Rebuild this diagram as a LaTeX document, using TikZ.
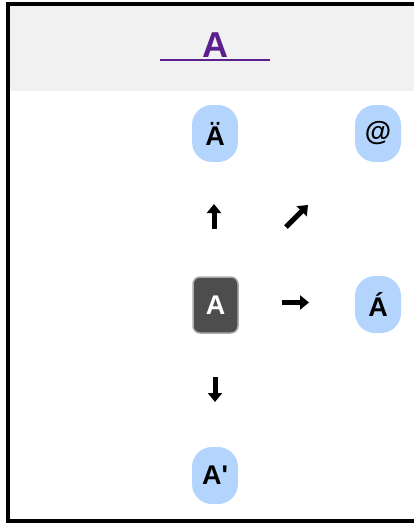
\documentclass[tikz,border=0pt]{standalone}
\usepackage{fontspec}
\setmainfont{Liberation Sans}
\usepackage{xcolor}
\usetikzlibrary{arrows.meta}

\definecolor{keyblue}{HTML}{B3D4FC}
\definecolor{keydark}{HTML}{4D4D4D}
\definecolor{keyedge}{HTML}{ABABAB}
\definecolor{hdrgray}{HTML}{F1F1F1}
\definecolor{titlepurple}{HTML}{5B1F8F}

\begin{document}
\begin{tikzpicture}[x=1pt, y=-1pt, font=\bfseries\fontsize{27}{27}\selectfont,
      variant/.style={fill=keyblue, rounded corners=20pt, minimum width=46pt, minimum height=57pt, inner sep=0pt},
      basekey/.style={fill=keydark, draw=keyedge, line width=1.5pt, rounded corners=7pt, text=white, minimum width=45pt, minimum height=56pt, inner sep=0pt},
      hint/.style={line width=5pt, -{Triangle[length=9pt, width=14pt]}},
      heading/.style={text=titlepurple, font=\bfseries\fontsize{36}{36}\selectfont, inner sep=0pt, anchor=base}]
    \useasboundingbox (0,0) rectangle (414,523);
    \fill[hdrgray] (10,6) rectangle (414,91);
    \draw[line width=4pt] (424,4) -- (8,4) -- (8,521) -- (424,521);
    \node[heading] (title) at (215,57) {A};
    \draw[titlepurple, line width=2pt] ([xshift=-55pt, yshift=-3pt]title.base) -- ([xshift=55pt, yshift=-3pt]title.base);
    \node[variant] (umlaut) at (215,133.5) {Ä};
    \node[variant] (at)     at (378,133.5) {@};
    \node[basekey] (key)    at (215.5,305) {A};
    \node[variant] (acute)  at (378,304.5) {Á};
    \node[variant] (prime)  at (215,475.5) {A\textquotesingle};
    \coordinate (up0) at (214,229);  \coordinate (up1) at (214,204);
    \coordinate (ne0) at (286,227);  \coordinate (ne1) at (308,205);
    \coordinate (rt0) at (282,302.5); \coordinate (rt1) at (309,302.5);
    \coordinate (dn0) at (215,377);  \coordinate (dn1) at (215,402);
    \draw[hint] (up0) -- (up1);
    \draw[hint] (ne0) -- (ne1);
    \draw[hint] (rt0) -- (rt1);
    \draw[hint] (dn0) -- (dn1);
  \end{tikzpicture}
\end{document}
